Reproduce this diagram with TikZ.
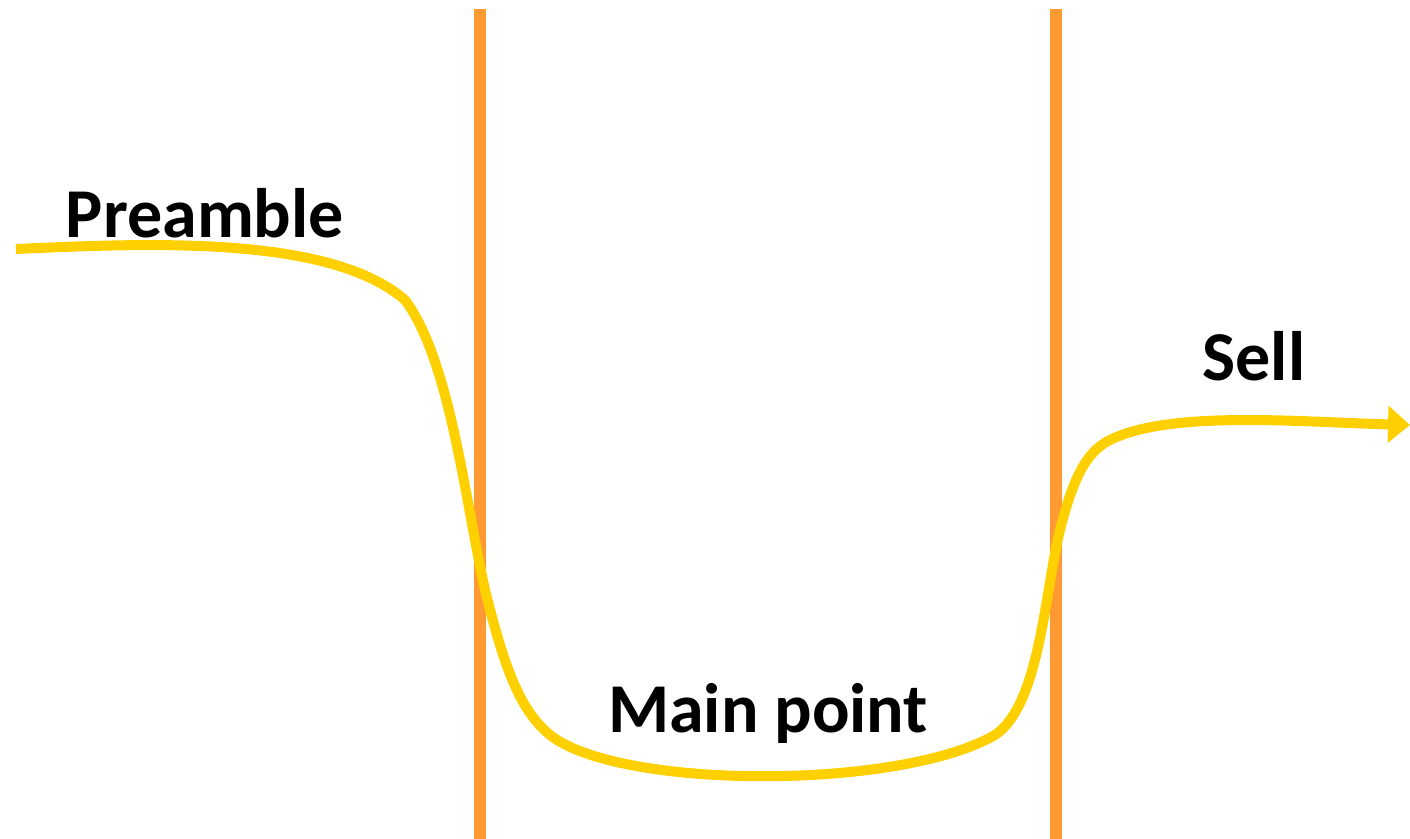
\documentclass[tikz,border=0pt]{standalone}
\usepackage{fontspec}
\setmainfont{Carlito}
\usetikzlibrary{arrows.meta}
\definecolor{barorange}{HTML}{FF9933}
\definecolor{curveyellow}{HTML}{FFD000}
\tikzset{
  bar/.style={draw=barorange, line width=6pt},
  flow/.style={draw=curveyellow, line width=5pt, -{Triangle[length=11pt,width=18pt]}},
  label/.style={font=\bfseries\fontsize{35}{40}\selectfont, anchor=base, inner sep=0pt, text=black}
}
\begin{document}
\begin{tikzpicture}[x=0.5pt,y=-0.5pt]
\useasboundingbox (0,0) rectangle (1410,839);
% vertical bars
\coordinate (b1top) at (480,9);
\coordinate (b1bot) at (480,839);
\coordinate (b2top) at (1056,9);
\coordinate (b2bot) at (1056,839);
\draw[bar] (b1top) -- (b1bot);
\draw[bar] (b2top) -- (b2bot);
% curve
\coordinate (start) at (16,249);
\coordinate (end) at (1410,425);
\draw[flow] (start) .. controls (150,243) and (330,235) .. (405,300)
  .. controls (450,360) and (465,500) .. (485,590)
  .. controls (505,670) and (520,710) .. (550,735)
  .. controls (620,790) and (900,790) .. (995,735)
  .. controls (1040,705) and (1045,590) .. (1060,530)
  .. controls (1075,470) and (1090,450) .. (1110,440)
  .. controls (1170,410) and (1300,422) .. (end);
% labels
\node[label] (preamble) at (205,238) {Preamble};
\node[label] (main) at (768,733) {Main point};
\node[label] (sell) at (1254,381) {Sell};
\end{tikzpicture}
\end{document}
